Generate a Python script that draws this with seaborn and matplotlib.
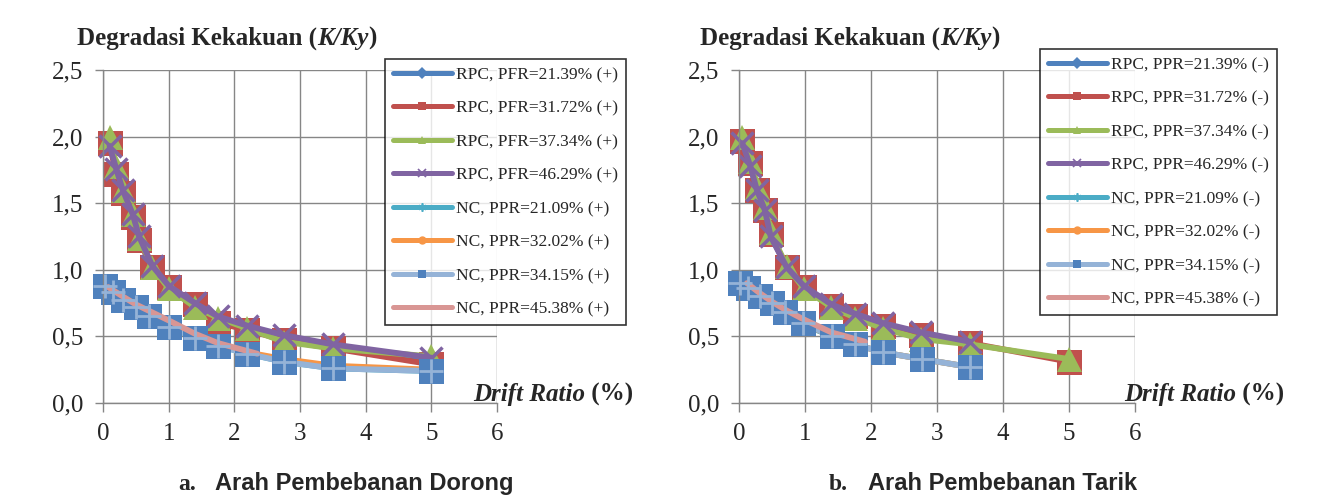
import matplotlib
matplotlib.use("Agg")
from matplotlib import pyplot as plt
from matplotlib.lines import Line2D
import pandas as pd
import seaborn as sns

# ---- data (drift ratio in %, K/Ky) ----
# a. Arah Pembebanan Dorong (+)
push_rpc_drift = [0.1, 0.2, 0.3, 0.45, 0.55, 0.75, 1.0, 1.4, 1.75, 2.2, 2.75, 3.5, 5.0]
push_rpc21 = [1.95, 1.75, 1.58, 1.40, 1.23, 1.02, 0.87, 0.74, 0.64, 0.56, 0.49, 0.43, 0.32]
push_rpc31 = [1.95, 1.72, 1.58, 1.40, 1.22, 1.02, 0.87, 0.74, 0.60, 0.55, 0.47, 0.41, 0.29]
push_rpc37 = [2.00, 1.78, 1.60, 1.42, 1.24, 1.02, 0.86, 0.72, 0.64, 0.56, 0.46, 0.41, 0.35]
push_rpc46 = [1.93, 1.76, 1.60, 1.42, 1.25, 1.03, 0.88, 0.75, 0.65, 0.58, 0.51, 0.44, 0.34]
push_nc_drift = [0.03, 0.15, 0.3, 0.5, 0.7, 1.0, 1.4, 1.75, 2.2, 2.75, 3.5, 5.0]
push_nc21 = [0.88, 0.83, 0.77, 0.72, 0.65, 0.57, 0.49, 0.43, 0.37, 0.31, 0.26, 0.24]
push_nc32 = [0.89, 0.84, 0.78, 0.73, 0.66, 0.58, 0.50, 0.44, 0.38, 0.33, 0.28, 0.25]
push_nc34 = [0.88, 0.83, 0.77, 0.72, 0.65, 0.57, 0.49, 0.43, 0.37, 0.31, 0.26, 0.24]
push_nc45_drift = [0.08, 0.3, 0.5, 0.75, 1.0, 1.4, 1.75, 2.35]
push_nc45 = [0.87, 0.80, 0.74, 0.68, 0.62, 0.52, 0.45, 0.37]

# b. Arah Pembebanan Tarik (-)
pull_rpc_drift = [0.05, 0.17, 0.27, 0.39, 0.48, 0.72, 0.98, 1.4, 1.76, 2.18, 2.76, 3.5, 5.0]
pull_rpc21 = [1.96, 1.79, 1.60, 1.45, 1.26, 1.02, 0.87, 0.73, 0.66, 0.59, 0.52, 0.45]
pull_rpc31 = [1.97, 1.80, 1.60, 1.45, 1.27, 1.02, 0.87, 0.73, 0.65, 0.58, 0.51, 0.45, 0.31]
pull_rpc37 = [2.00, 1.82, 1.62, 1.47, 1.28, 1.03, 0.86, 0.72, 0.64, 0.56, 0.48, 0.44, 0.33]
pull_rpc46 = [1.95, 1.78, 1.60, 1.45, 1.25, 1.02, 0.88, 0.74, 0.67, 0.60, 0.53, 0.46]
pull_nc_drift = [0.02, 0.14, 0.32, 0.5, 0.7, 0.97, 1.41, 1.76, 2.18, 2.77, 3.5]
pull_nc21 = [0.89, 0.85, 0.79, 0.74, 0.67, 0.59, 0.50, 0.44, 0.38, 0.33, 0.27]
pull_nc32 = [0.90, 0.86, 0.80, 0.75, 0.68, 0.60, 0.50, 0.44, 0.38, 0.33, 0.27]
pull_nc34 = [0.90, 0.86, 0.80, 0.75, 0.68, 0.60, 0.50, 0.44, 0.38, 0.33, 0.27]
pull_nc45_drift = [0.12, 0.3, 0.5, 0.7, 0.97, 1.4, 1.91]
pull_nc45 = [0.90, 0.83, 0.76, 0.70, 0.63, 0.53, 0.46]

push_labels = ['RPC, PFR=21.39% (+)', 'RPC, PFR=31.72% (+)', 'RPC, PFR=37.34% (+)',
               'RPC, PFR=46.29% (+)', 'NC, PPR=21.09% (+)', 'NC, PPR=32.02% (+)',
               'NC, PPR=34.15% (+)', 'NC, PPR=45.38% (+)']
pull_labels = ['RPC, PPR=21.39% (-)', 'RPC, PPR=31.72% (-)', 'RPC, PPR=37.34% (-)',
               'RPC, PPR=46.29% (-)', 'NC, PPR=21.09% (-)', 'NC, PPR=32.02% (-)',
               'NC, PPR=34.15% (-)', 'NC, PPR=45.38% (-)']
y_ticks = [0.0, 0.5, 1.0, 1.5, 2.0, 2.5]
y_ticklabels = ['0,0', '0,5', '1,0', '1,5', '2,0', '2,5']
x_ticks = [0, 1, 2, 3, 4, 5, 6]

# excel 2007 palette, one style per series
STYLES = [
    dict(color='#4F81BD', marker='D', ms=8, mfc='#4F81BD', mec='#4F81BD', mew=0),
    dict(color='#C0504D', marker='s', ms=18, mfc='#C0504D', mec='#C0504D', mew=0),
    dict(color='#9BBB59', marker='^', ms=18, mfc='#9BBB59', mec='#9BBB59', mew=0),
    dict(color='#8064A2', marker='x', ms=16, mfc='#8064A2', mec='#8064A2', mew=2.5),
    dict(color='#4BACC6', marker=(6, 2, 0), ms=12, mfc='#4BACC6', mec='#4BACC6', mew=1.5),
    dict(color='#F79646', marker='o', ms=10, mfc='#F79646', mec='#F79646', mew=0),
    dict(color='#95B3D7', marker='s', ms=18, mfc='#4F81BD', mec='#4F81BD', mew=0),
    dict(color='#D99694', marker=None, ms=0, mfc='#D99694', mec='#D99694', mew=0),
]
GRID = '#868686'
SERIF = 'Liberation Serif'
SANS = 'Liberation Sans'

sns.set_style('white')
plt.rcParams['font.family'] = [SERIF, 'DejaVu Sans']


def _draw_series(ax, x, y, style):
    n = min(len(x), len(y))
    df = pd.DataFrame({'drift': x[:n], 'k': y[:n]})
    sns.lineplot(data=df, x='drift', y='k', ax=ax, sort=False, estimator=None,
                 color=style['color'], lw=4.2, marker=style['marker'], markersize=style['ms'],
                 markerfacecolor=style['mfc'], markeredgecolor=style['mec'],
                 markeredgewidth=style['mew'], clip_on=False, legend=False)
    if style['color'] == '#95B3D7':
        # light cross drawn inside the square markers
        ax.plot(df['drift'], df['k'], ls='none', marker='+', ms=17, mew=2,
                mec='#95B3D7', clip_on=False, zorder=3)


def _style_axis(ax):
    ax.set_xlim(0, 6)
    ax.set_ylim(0, 2.5)
    ax.set_xticks(x_ticks)
    ax.set_xticklabels([str(t) for t in x_ticks])
    ax.set_yticks(y_ticks)
    ax.set_yticklabels(y_ticklabels)
    ax.grid(True, color=GRID, lw=1.0)
    ax.set_axisbelow(True)
    for side in ['top', 'right']:
        ax.spines[side].set_visible(False)
    for side in ['left', 'bottom']:
        ax.spines[side].set_color(GRID)
        ax.spines[side].set_linewidth(1.0)
    ax.tick_params(axis='y', direction='out', length=6, width=1, color=GRID, pad=8,
                   labelsize=18, left=True)
    ax.tick_params(axis='x', direction='out', length=6.5, width=1, color=GRID, pad=8,
                   labelsize=18, bottom=True)
    ax.set_xlabel('')
    ax.set_ylabel('')


def _legend_handles(labels):
    handles = []
    for style, label in zip(STYLES, labels):
        ms = 0 if style['marker'] is None else 6
        handles.append(Line2D([], [], color=style['color'], lw=3.6, marker=style['marker'],
                              ms=ms, mfc=style['mfc'], mec=style['mec'],
                              mew=min(style['mew'], 1.2), label=label))
    return handles


def _rich_text(fig, x, y, parts):
    """Draw consecutive text pieces on one baseline, starting at figure x."""
    renderer = fig.canvas.get_renderer()
    for text, kw in parts:
        t = fig.text(x, y, text, ha='left', va='baseline', **kw)
        bb = t.get_window_extent(renderer=renderer)
        x = fig.transFigure.inverted().transform((bb.x1, bb.y0))[0]


fig = plt.figure(figsize=(13.19, 4.96), dpi=100)
ax_push = fig.add_axes([0.0781, 0.1875, 0.2987, 0.6714])
ax_pull = fig.add_axes([0.5603, 0.1875, 0.3002, 0.6714])

push_series = [(push_rpc_drift, push_rpc21), (push_rpc_drift, push_rpc31),
               (push_rpc_drift, push_rpc37), (push_rpc_drift, push_rpc46),
               (push_nc_drift, push_nc21), (push_nc_drift, push_nc32),
               (push_nc_drift, push_nc34), (push_nc45_drift, push_nc45)]
pull_series = [(pull_rpc_drift, pull_rpc21), (pull_rpc_drift, pull_rpc31),
               (pull_rpc_drift, pull_rpc37), (pull_rpc_drift, pull_rpc46),
               (pull_nc_drift, pull_nc21), (pull_nc_drift, pull_nc32),
               (pull_nc_drift, pull_nc34), (pull_nc45_drift, pull_nc45)]

for ax, series in [(ax_push, push_series), (ax_pull, pull_series)]:
    for (x, y), style in zip(series, STYLES):
        _draw_series(ax, x, y, style)
    _style_axis(ax)

leg_kw = dict(loc='upper left', fontsize=12.5, frameon=True, fancybox=False, borderaxespad=0,
              handlelength=3.4, handletextpad=0.25, labelspacing=1.0, borderpad=0.45)
for labels, anchor in [(push_labels, (385 / 1319, 1 - 59 / 496)),
                       (pull_labels, (1040 / 1319, 1 - 49 / 496))]:
    leg = fig.legend(handles=_legend_handles(labels), bbox_to_anchor=anchor, **leg_kw)
    leg.get_frame().set_edgecolor('black')
    leg.get_frame().set_linewidth(1.2)

fig.canvas.draw()
bold = dict(family=SERIF, weight='bold', fontsize=18)
bold_it = dict(family=SERIF, weight='bold', style='italic', fontsize=18)
for x0 in [77 / 1319, 700 / 1319]:
    _rich_text(fig, x0, 1 - 45 / 496, [('Degradasi Kekakuan (', bold), ('K/Ky', bold_it), (')', bold)])

dr_bold = dict(family=SERIF, weight='bold', fontsize=18)
dr_it = dict(family=SERIF, weight='bold', style='italic', fontsize=18)
for x0 in [473 / 1319, 1124 / 1319]:
    _rich_text(fig, x0, 1 - 401 / 496, [('Drift Ratio', dr_it), (' (%)', dr_bold)])

cap_y = 1 - 490 / 496
for (xa, xb, text) in [(178, 215, 'Arah Pembebanan Dorong'), (829, 868, 'Arah Pembebanan Tarik')]:
    fig.text(xa / 1319, cap_y, 'a.' if xa < 500 else 'b.', family=SERIF, weight='bold',
             fontsize=17, ha='left', va='baseline')
    fig.text(xb / 1319, cap_y, text, family=SANS, weight='bold', fontsize=17,
             ha='left', va='baseline')

fig.savefig('out.png', dpi=100)
